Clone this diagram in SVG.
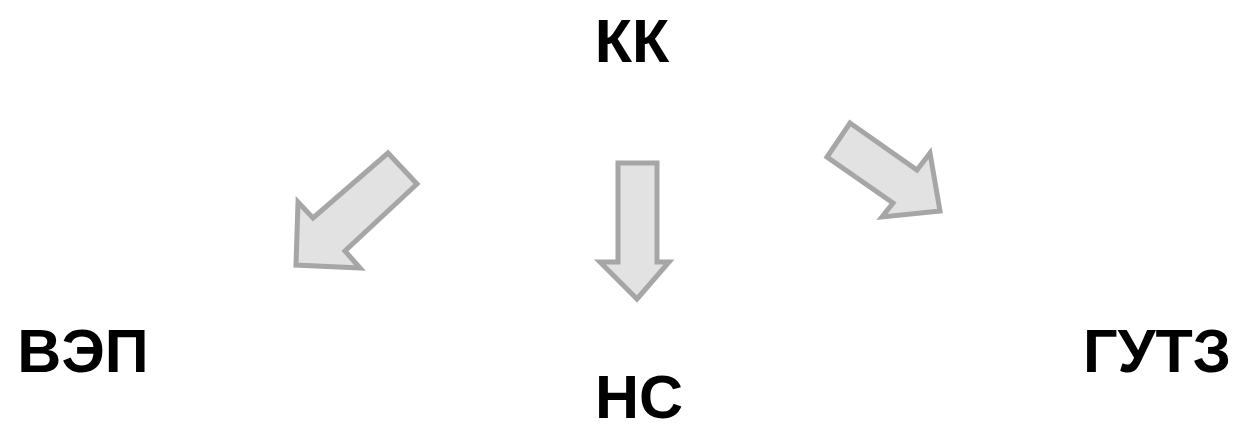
<svg xmlns="http://www.w3.org/2000/svg" width="1239" height="431" viewBox="0 0 1239 431">
<style>
.lbl{font-family:"Liberation Sans",Arial,sans-serif;font-weight:bold;font-size:61px;fill:#000;text-anchor:middle}
.arr{fill:#e2e2e2;stroke:#a6a6a6;stroke-width:5;stroke-linejoin:miter}
</style>
<rect width="1239" height="431" fill="#fff"/>
<g id="node-kk"><text class="lbl" x="632" y="62">КК</text></g>
<g id="node-vep"><text class="lbl" x="83" y="372">ВЭП</text></g>
<g id="node-ns"><text class="lbl" x="639" y="418">НС</text></g>
<g id="node-gutz"><text class="lbl" x="1157" y="372">ГУТЗ</text></g>
<g id="connectors">
<polygon class="arr" points="388,153 417,184 345,251 360,268 296,265 298,202 313,218"/>
<polygon class="arr" points="618,163 657,163 657,262 669,262 637,299 600,262 618,262"/>
<polygon class="arr" points="850,123 917,170 930,153 940,211 882,217 893,203 827,157"/>
</g>
</svg>
